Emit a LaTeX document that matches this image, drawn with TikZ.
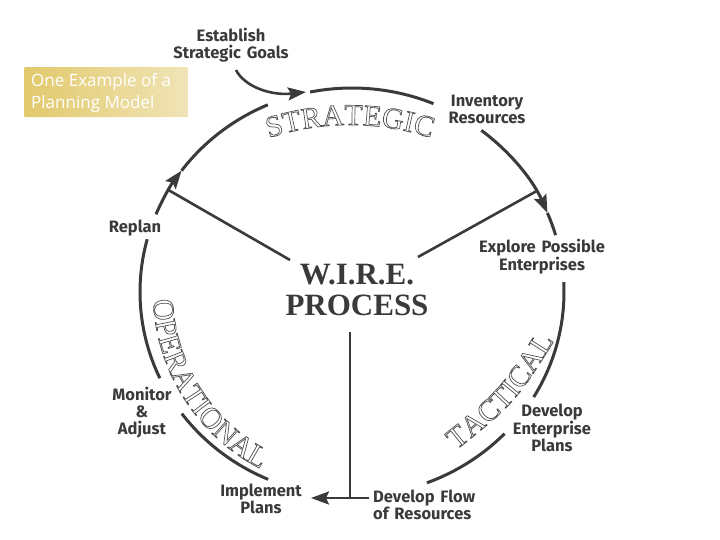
\documentclass[tikz,border=0pt]{standalone}
\usepackage{fontspec}
\setmainfont{Liberation Serif}
\newfontfamily\labfont{Fira Sans}
\newfontfamily\boxfont{Open Sans}
\usetikzlibrary{arrows.meta,decorations.text}
\definecolor{ink}{HTML}{3A3A3A}
\definecolor{outl}{HTML}{505050}
\definecolor{goldA}{HTML}{E2C96C}
\definecolor{goldB}{HTML}{F0E4B6}
\newcommand\plaintr{\special{pdf:literal direct 0 Tr}}
\newcommand\outlfont{\fontsize{30}{30}\selectfont\color{outl}\special{pdf:literal direct 1 Tr 0.7 w}}
\tikzset{
  ring/.style={draw=ink, line width=3pt},
  spoke/.style={draw=ink, line width=2.6pt},
  tipb/.style={-{Stealth[length=18pt,width=13pt,inset=3pt]}},
  lab/.style={text=ink, font=\plaintr\labfont\bfseries\fontsize{16.5}{17}\selectfont, align=center, inner sep=0pt},
  titletext/.style={text=ink, font=\plaintr\bfseries\fontsize{31}{31}\selectfont, align=center, inner sep=0pt},
  boxtext/.style={text=white, font=\plaintr\boxfont\fontsize{17}{22}\selectfont, align=left, inner sep=0pt},
  elr/.style={x radius=212, y radius=204},
}
\begin{document}
\begin{tikzpicture}[x=1pt,y=-1pt]
\useasboundingbox (0,0) rectangle (720,540);
\fill[white] (0,0) rectangle (720,540);
\coordinate (C) at (352,292);

% ring arcs
\draw[ring,tipb] (C) ++(-157.6:212 and 204) arc[start angle=-157.6, end angle=-143.5, elr];
\draw[ring] (C) ++(-143.5:212 and 204) arc[start angle=-143.5, end angle=-113.4, elr];
\draw[ring] (C) ++(-101.4:212 and 204) arc[start angle=-101.4, end angle=-67.4, elr];
\draw[ring,tipb] (C) ++(-52.4:212 and 204) arc[start angle=-52.4, end angle=-22.8, elr];
\draw[ring] (C) ++(-22.8:212 and 204) arc[start angle=-22.8, end angle=-16.2, elr];
\draw[ring] (C) ++(-2.8:212 and 204) arc[start angle=-2.8, end angle=31, elr];
\draw[ring] (C) ++(44:212 and 204) arc[start angle=44, end angle=69.3, elr];
\draw[ring] (C) ++(113.3:212 and 204) arc[start angle=113.3, end angle=143.4, elr];
\draw[ring] (C) ++(155:212 and 204) arc[start angle=155, end angle=195, elr];

% junction points on the ring
\path (C) ++(-150:212 and 204) coordinate (jL);
\path (C) ++(-29.6:212 and 204) coordinate (jR);

% labels
\node[lab] (est) at (231,45) {Establish\\Strategic\hspace{0.35em}Goals};
\node[lab] (inv) at (487,109) {Inventory\\Resources};
\node[lab] (exp) at (542,257) {Explore\hspace{0.35em}Possible\\Enterprises};
\node[lab] (rep) at (135,228) {Replan};
\node[lab] (dep) at (552,428) {Develop\\Enterprise\\Plans};
\node[lab, align=left, anchor=west] (dfl) at (373,505) {Develop\hspace{0.35em}Flow\\of\hspace{0.35em}Resources};
\node[lab] (imp) at (261,499) {Implement\\Plans};
\node[lab] (mon) at (142,413) {Monitor\\\&\\Adjust};
\node[titletext] (wire) at (357,290) {W.I.R.E.\\PROCESS};

% establish arrow
\coordinate (estS) at (236,70);
\coordinate (estT) at (306,92);
\draw[spoke,tipb] (estS) .. controls (244,86) and (270,96) .. (estT);

% spokes
\coordinate (sL) at (290,260);
\coordinate (sR) at (418,257);
\coordinate (sD) at (350,332);
\coordinate (sB) at (350,498);
\coordinate (hR) at (369,498);
\coordinate (hL) at (311,498);
\draw[spoke] (sL) -- (jL);
\draw[spoke] (sR) -- (jR);
\draw[spoke] (sD) -- (sB);
\draw[spoke,tipb] (hR) -- (hL);

% outlined phase names
\path[decorate, decoration={text along path, text align=center,
  text={|\outlfont|STRATEGIC}}]
  (350,385) ++(-115:260) arc[start angle=-115, end angle=-65, radius=260];
\path[decorate, decoration={text along path, text align=center,
  text={|\outlfont|TACTICAL}}]
  (454,452) .. controls (515,403) .. (556,338);
\path[decorate, decoration={text along path, text align=center,
  text={|\outlfont|OPERATIONAL}}]
  (C) ++(181:199) arc[start angle=181, end angle=114, radius=199];

% title box
\node[shade, left color=goldA, right color=goldB, minimum width=164pt, minimum height=50pt,
  anchor=north west, inner sep=0pt, rounded corners=1pt] (box) at (24,67) {};
\node[boxtext, anchor=north west] (boxt) at (31,73) {One Example of a\\Planning Model};
\end{tikzpicture}
\end{document}
